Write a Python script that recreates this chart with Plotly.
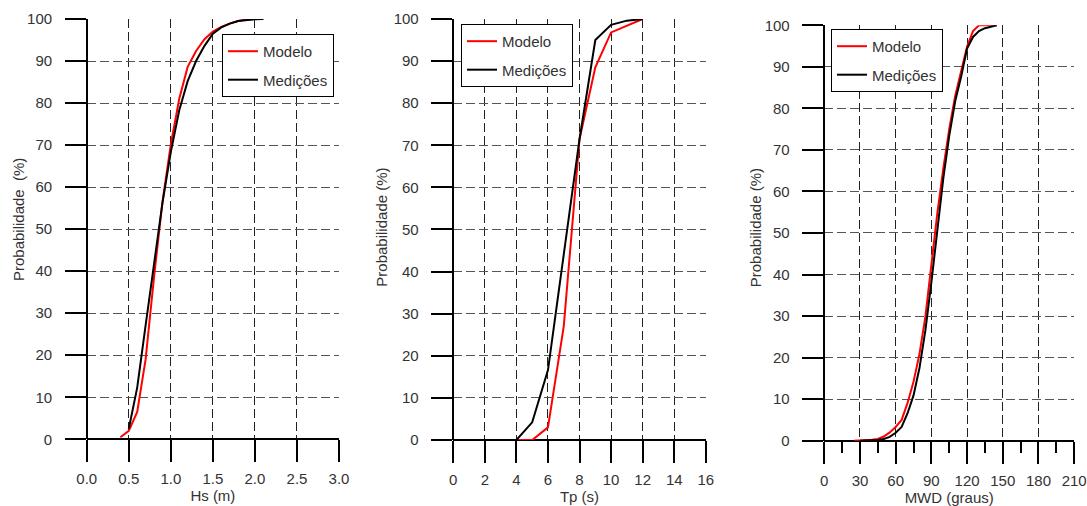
import plotly.graph_objects as go

FONT = "Liberation Sans, Arial, sans-serif"

# ---- Panel 1: Hs ----
hs_mod_x = [0.4, 0.5, 0.6, 0.7, 0.8, 0.9, 1.0, 1.1, 1.2, 1.3, 1.4, 1.5, 1.6, 1.7, 1.8, 1.9, 2.0, 2.1]
hs_mod_y = [0.5, 2.0, 6.5, 19.0, 38.6, 56.4, 70.2, 81.0, 88.6, 92.4, 95.2, 97.0, 98.1, 98.9, 99.5, 99.9, 100.0, 100.0]
hs_med_x = [0.5, 0.6, 0.7, 0.8, 0.9, 1.0, 1.1, 1.2, 1.3, 1.4, 1.5, 1.6, 1.7, 1.8, 1.9, 2.0, 2.1]
hs_med_y = [2.5, 12.3, 27.1, 41.6, 56.2, 68.4, 78.3, 85.2, 90.0, 93.6, 96.5, 98.0, 98.9, 99.5, 99.8, 99.95, 100.0]

# ---- Panel 2: Tp ----
tp_mod_x = [4, 5, 6, 7, 8, 9, 10, 11, 12]
tp_mod_y = [0.0, 0.0, 3.0, 27.0, 71.5, 88.5, 96.8, 98.4, 100.0]
tp_med_x = [4, 5, 6, 7, 8, 9, 10, 11, 12]
tp_med_y = [0.0, 4.2, 16.6, 43.5, 71.5, 95.0, 98.6, 99.6, 100.0]

# ---- Panel 3: MWD ----
mwd_mod_x = [25, 30, 35, 40, 45, 50, 55, 60, 65, 70, 75, 80, 85, 90, 95, 100, 105, 110, 115, 120, 125, 130, 135, 140, 145]
mwd_mod_y = [0.0, 0.05, 0.1, 0.2, 0.4, 1.0, 2.0, 3.3, 5.0, 9.1, 14.2, 20.9, 29.9, 42.2, 54.8, 65.5, 75.0, 83.0, 89.1, 94.9, 98.6, 100.0, 100.0, 100.0, 100.0]
mwd_med_x = [30, 35, 40, 45, 50, 55, 60, 65, 70, 75, 80, 85, 90, 95, 100, 105, 110, 115, 120, 125, 130, 135, 140, 145]
mwd_med_y = [0.0, 0.0, 0.05, 0.15, 0.4, 0.9, 1.9, 3.3, 6.6, 10.9, 17.5, 26.6, 38.1, 51.4, 63.1, 73.4, 81.7, 87.6, 94.4, 97.2, 98.6, 99.3, 99.6, 100.0]

series_names = ["Modelo", "Medições"]
x_titles = ["Hs (m)", "Tp (s)", "MWD (graus)"]
y_titles = ["Probabilidade\u00a0 (%)", "Probabilidade (%)", "Probabilidade (%)"]
x_ranges = [[0, 3], [0, 16], [0, 210]]
x_dticks = [0.5, 2, 30]
x_formats = [".1f", "d", "d"]

panels = [
    (hs_mod_x, hs_mod_y, hs_med_x, hs_med_y),
    (tp_mod_x, tp_mod_y, tp_med_x, tp_med_y),
    (mwd_mod_x, mwd_mod_y, mwd_med_x, mwd_med_y),
]

x_domains = [[0.0798, 0.3119], [0.4170, 0.6493], [0.7583, 0.9882]]
y_domains = [[0.1318, 0.9625], [0.1304, 0.9625], [0.1291, 0.9500]]
legend_pos = [(0.2042, 0.9329), (0.4241, 0.9527), (0.7645, 0.9428)]
ytitle_pos = [(0.0166, 0.5652), (0.3514, 0.5520), (0.6946, 0.5490)]

fig = go.Figure()
layout = dict(
    template="none",
    width=1087, height=506,
    margin=dict(l=0, r=0, t=0, b=0, autoexpand=False),
    paper_bgcolor="white", plot_bgcolor="white",
    font=dict(family=FONT, size=15, color="#333333"),
    annotations=[],
)

for i, (mx, my, dx, dy) in enumerate(panels):
    n = "" if i == 0 else str(i + 1)
    leg = "legend" + n
    fig.add_trace(go.Scatter(x=mx, y=my, mode="lines", name=series_names[0],
                             line=dict(color="#ff0000", width=2),
                             xaxis="x" + n, yaxis="y" + n, legend=leg,
                             legendgroup="m" + n))
    fig.add_trace(go.Scatter(x=dx, y=dy, mode="lines", name=series_names[1],
                             line=dict(color="#000000", width=2),
                             xaxis="x" + n, yaxis="y" + n, legend=leg,
                             legendgroup="d" + n))
    xa = dict(
        domain=x_domains[i], anchor="y" + n, range=x_ranges[i],
        dtick=x_dticks[i], tick0=0, tickformat=x_formats[i],
        showgrid=True, gridcolor="#222222", gridwidth=1, griddash="9px,4px",
        zeroline=True, zerolinecolor="#000000", zerolinewidth=2.2,
        showline=False, automargin=False,
        ticks="outside", ticklen=22, tickwidth=2.2, tickcolor="#000000",
        ticklabelstandoff=4,
        tickfont=dict(size=15, color="#333333"),
        title=dict(text=x_titles[i], standoff=0, font=dict(size=15, color="#333333")),
        fixedrange=True,
    )
    if i == 2:
        xa["minor"] = dict(dtick=15, tick0=0, ticks="outside", ticklen=11,
                           tickwidth=2.2, tickcolor="#000000", showgrid=False)
    ya = dict(
        domain=y_domains[i], anchor="x" + n, range=[0, 100], dtick=10, tick0=0,
        showgrid=True, gridcolor="#555555", gridwidth=1.3, griddash="9px,4px",
        zeroline=True, zerolinecolor="#000000", zerolinewidth=2.2,
        showline=False, automargin=False,
        ticks="outside", ticklen=21, tickwidth=2.2, tickcolor="#000000",
        ticklabelstandoff=0, ticksuffix="\u2007\u200a",
        tickfont=dict(size=15, color="#333333"),
        fixedrange=True,
    )
    layout["xaxis" + n] = xa
    layout["yaxis" + n] = ya
    layout[leg] = dict(
        x=legend_pos[i][0], y=legend_pos[i][1], xanchor="left", yanchor="top",
        bgcolor="white", bordercolor="#000000", borderwidth=1,
        font=dict(size=15, color="#333333"), tracegroupgap=6,
    )
    layout["annotations"].append(dict(
        text=y_titles[i], xref="paper", yref="paper",
        x=ytitle_pos[i][0], y=ytitle_pos[i][1], xanchor="center", yanchor="middle",
        textangle=-90, showarrow=False, font=dict(size=15, color="#333333"),
    ))

fig.update_layout(**layout)
fig.write_html(
    "out.html",
    config={"displayModeBar": False},
    post_script="document.body.style.margin='0';document.body.style.padding='0';"
                "document.body.style.overflow='hidden';",
)
